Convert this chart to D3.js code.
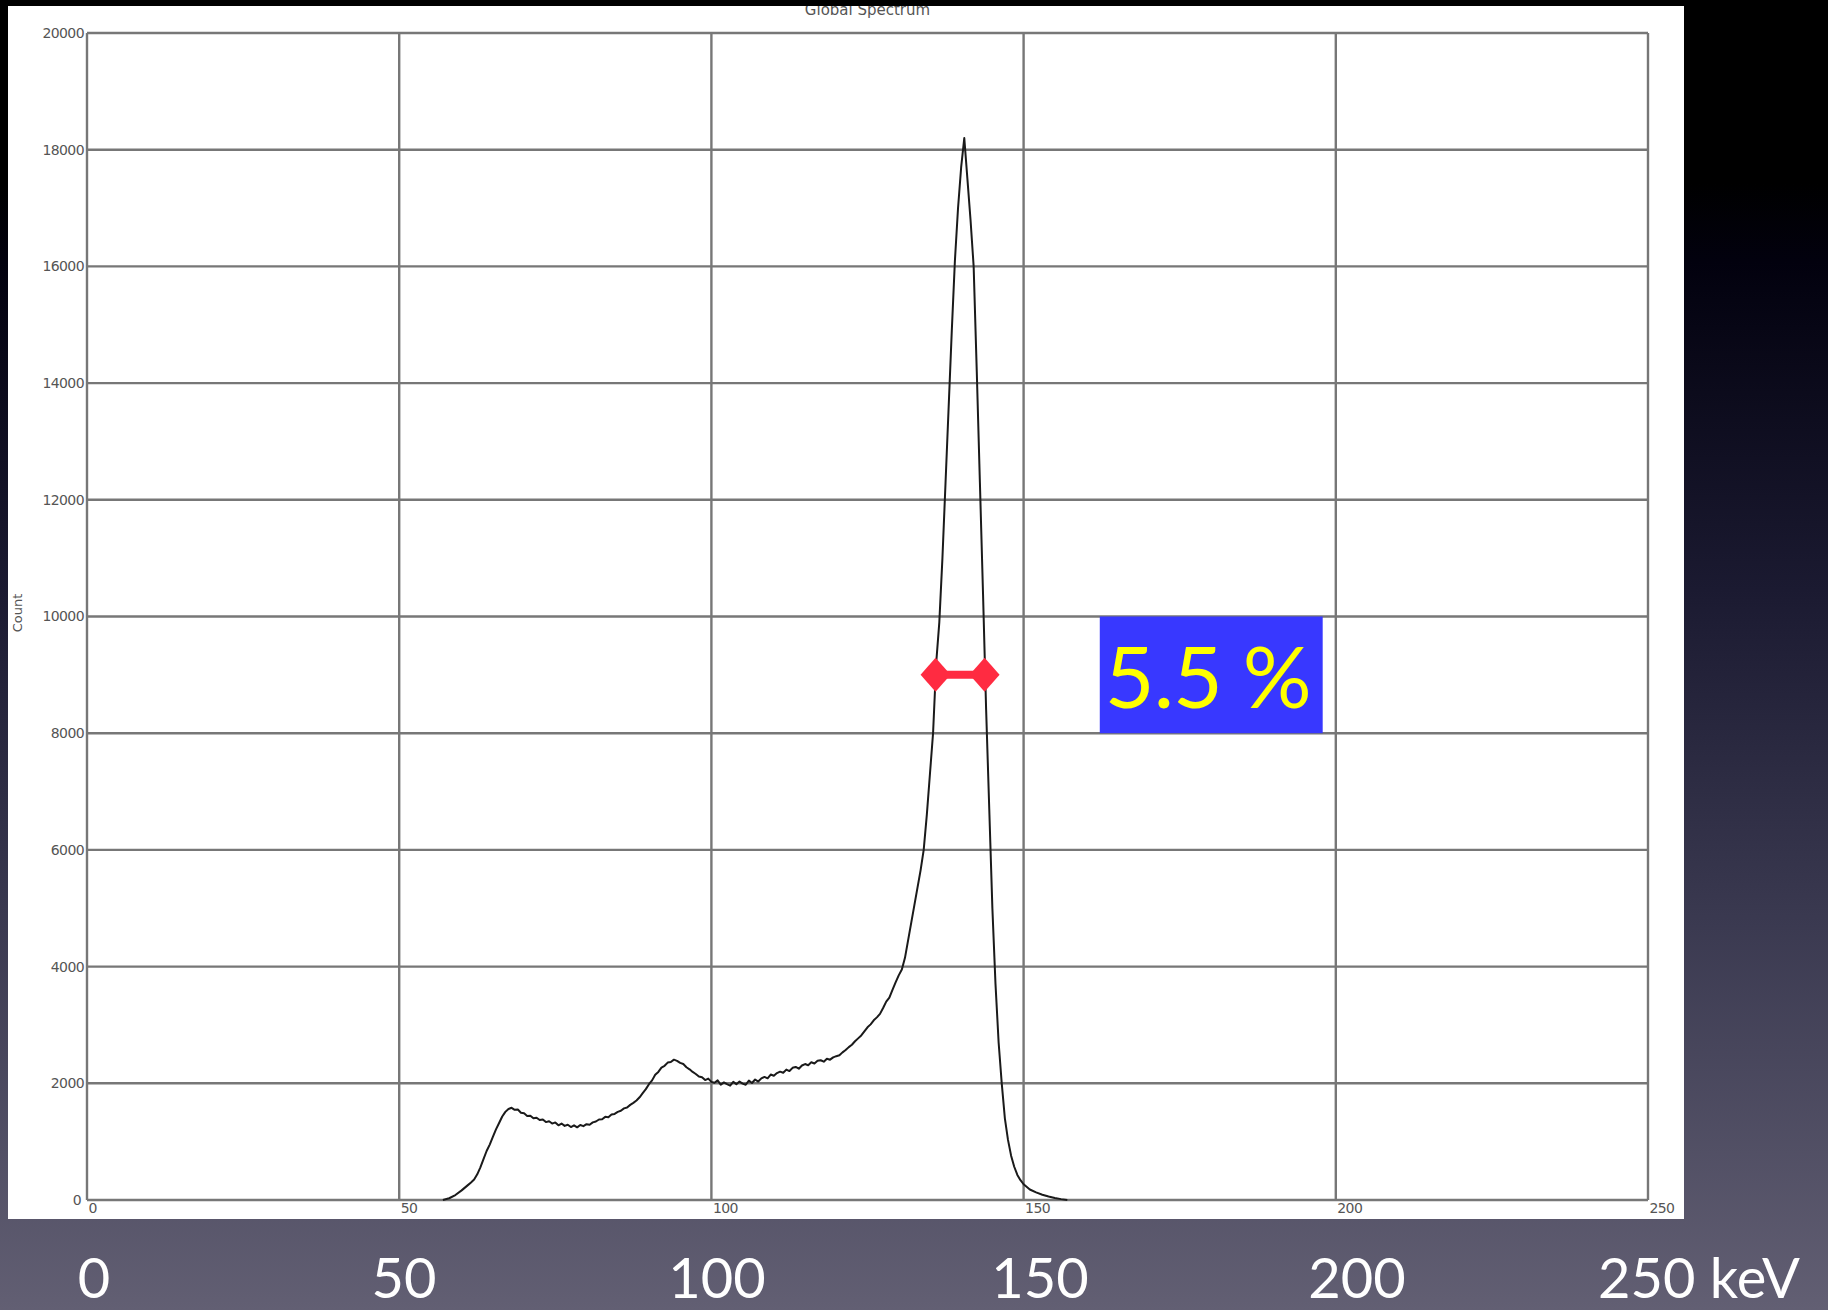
<!DOCTYPE html>
<html>
<head>
<meta charset="utf-8">
<script src="https://cdn.jsdelivr.net/npm/d3@7"></script>
<style>
  html, body { margin: 0; padding: 0; background: #000; }
  svg { display: block; }
</style>
</head>
<body>
<svg id="chart" width="1828" height="1310"></svg>
<script>
// ---------- DATA ----------
const chartTitle = "Global Spectrum";
const yAxisTitle = "Count";
const xTicks = [0, 50, 100, 150, 200, 250];
const yTicks = [0, 2000, 4000, 6000, 8000, 10000, 12000, 14000, 16000, 18000, 20000];
const slideLabels = ["0", "50", "100", "150", "200", "250 keV"];
const slideLabelValues = [0, 50, 100, 150, 200, 250];

const energy = [
  57, 58, 59, 60, 61, 61.5, 62, 62.5, 63, 63.5, 64, 64.5, 65, 65.5, 66, 66.5, 67, 67.5, 68,
  68.5, 69, 69.5, 70, 70.5, 71, 71.5, 72, 72.5, 73, 73.5, 74, 74.5, 75, 75.5, 76, 76.5, 77, 77.5, 78,
  78.5, 79, 79.5, 80, 80.5, 81, 81.5, 82, 82.5, 83, 83.5, 84, 84.5, 85, 85.5, 86, 86.5, 87, 87.5, 88,
  88.5, 89, 89.5, 90, 90.5, 91, 91.5, 92, 92.5, 93, 93.5, 94, 94.5, 95, 95.5, 96, 96.5, 97, 97.5, 98,
  98.5, 99, 99.5, 100, 100.5, 101, 101.5, 102, 102.5, 103, 103.5, 104, 104.5, 105, 105.5, 106, 106.5, 107, 107.5, 108,
  108.5, 109, 109.5, 110, 110.5, 111, 111.5, 112, 112.5, 113, 113.5, 114, 114.5, 115, 115.5, 116, 116.5, 117, 117.5, 118,
  118.5, 119, 119.5, 120, 120.5, 121, 121.5, 122, 122.5, 123, 123.5, 124, 124.5, 125, 125.5, 126, 126.5, 127, 127.5, 128,
  128.5, 129, 129.5, 130, 130.5, 131, 131.5, 132, 132.5, 133, 133.5, 134, 134.5, 135, 135.5, 136, 136.5, 137, 137.5, 138,
  138.5, 139, 139.5, 140, 140.5, 141, 141.5, 142, 142.5, 143, 143.5, 144, 144.5, 145, 145.5, 146, 146.5, 147, 147.5, 148,
  148.5, 149, 149.5, 150, 151, 152, 153, 154, 155, 156, 157
];
const counts = [
  0, 30, 85, 165, 255, 300, 350, 440, 560, 700, 840, 950, 1080, 1210, 1320, 1430, 1510, 1560, 1580,
  1545, 1550, 1495, 1485, 1440, 1445, 1400, 1410, 1370, 1380, 1335, 1350, 1310, 1330, 1280, 1310, 1270, 1290, 1250, 1280,
  1245, 1285, 1265, 1300, 1290, 1330, 1345, 1380, 1385, 1425, 1420, 1465, 1475, 1510, 1530, 1570, 1585, 1630, 1665, 1705,
  1760, 1830, 1900, 1985, 2050, 2145, 2195, 2270, 2300, 2355, 2365, 2405, 2385, 2350, 2330, 2275, 2240, 2195, 2160, 2115,
  2105, 2055, 2080, 2025, 2010, 2050, 1975, 2015, 1985, 1960, 2025, 1985, 2030, 1995, 1975, 2045, 2005, 2065, 2030, 2085,
  2110, 2085, 2150, 2130, 2175, 2200, 2180, 2235, 2210, 2265, 2280, 2250, 2305, 2330, 2310, 2360, 2340, 2385, 2395, 2370,
  2420, 2405, 2445, 2465, 2480, 2530, 2570, 2620, 2660, 2720, 2770, 2820, 2890, 2960, 3010, 3080, 3130, 3190, 3290, 3400,
  3470, 3600, 3730, 3850, 3950, 4150, 4450, 4750, 5050, 5350, 5650, 6000, 6600, 7300, 8000, 9200, 9900, 11000, 12300, 13600,
  14900, 16100, 17000, 17700, 18200, 17500, 16800, 16000, 14200, 12300, 10400, 8400, 6700, 5000, 3700, 2700, 2000, 1400, 1030, 760,
  570, 430, 340, 270, 180, 130, 90, 60, 35, 15, 0
];

// FWHM marker and annotation
const fwhmLeft = 135.9, fwhmRight = 143.75, fwhmLevel = 9000;
const annotationText = "5.5 %";
const boxX = [162.2, 197.9];
const boxY = [8000, 10000];

// ---------- LAYOUT ----------
const W = 1828, H = 1310;
const svg = d3.select("#chart");
const defs = svg.append("defs");

const grad = defs.append("linearGradient").attr("id", "bg").attr("x1", 0).attr("y1", 0).attr("x2", 0).attr("y2", 1);
grad.append("stop").attr("offset", "0%").attr("stop-color", "#000000");
grad.append("stop").attr("offset", "14%").attr("stop-color", "#000000");
grad.append("stop").attr("offset", "20%").attr("stop-color", "#02010e");
grad.append("stop").attr("offset", "45%").attr("stop-color", "#1b1a31");
grad.append("stop").attr("offset", "70%").attr("stop-color", "#3a3950");
grad.append("stop").attr("offset", "100%").attr("stop-color", "#625f73");
svg.append("rect").attr("width", W).attr("height", H).attr("fill", "url(#bg)");

// white panel
const panel = { x: 8, y: 6, w: 1676, h: 1213 };
defs.append("clipPath").attr("id", "panelClip").append("rect")
  .attr("x", panel.x).attr("y", panel.y).attr("width", panel.w).attr("height", panel.h);
svg.append("rect").attr("x", panel.x).attr("y", panel.y).attr("width", panel.w).attr("height", panel.h).attr("fill", "#ffffff");

const x = d3.scaleLinear().domain([0, 250]).range([87, 1648]);
const y = d3.scaleLinear().domain([0, 20000]).range([1200, 33]);

const g = svg.append("g").attr("clip-path", "url(#panelClip)");

// grid
const gridColor = "#777777";
g.append("g").selectAll("line").data(yTicks).join("line")
  .attr("x1", x(0)).attr("x2", x(250))
  .attr("y1", d => y(d)).attr("y2", d => y(d))
  .attr("stroke", gridColor).attr("stroke-width", 2.4);
g.append("g").selectAll("line").data(xTicks).join("line")
  .attr("x1", d => x(d)).attr("x2", d => x(d))
  .attr("y1", y(0)).attr("y2", y(20000))
  .attr("stroke", gridColor).attr("stroke-width", 2.4);

// axes labels
const tickFont = "'DejaVu Sans', sans-serif";
const yAxis = g.append("g").attr("transform", `translate(${x(0)},0)`)
  .call(d3.axisLeft(y).tickValues(yTicks).tickSize(0).tickPadding(3).tickFormat(d3.format("d")));
yAxis.select(".domain").remove();
yAxis.selectAll("text").attr("font-family", tickFont).attr("font-size", 14).attr("fill", "#555")
  .attr("letter-spacing", "-0.6");
yAxis.selectAll(".tick").filter(d => d === 0).select("text").attr("dx", -3);

const xAxis = g.append("g").attr("transform", `translate(0,${y(0)})`)
  .call(d3.axisBottom(x).tickValues(xTicks).tickSize(0).tickPadding(3).tickFormat(d3.format("d")));
xAxis.select(".domain").remove();
xAxis.selectAll("text").attr("font-family", tickFont).attr("font-size", 14).attr("fill", "#555")
  .attr("text-anchor", "start").attr("dx", 1).attr("letter-spacing", "-0.6");

// title and y title
g.append("text").attr("x", (x(0) + x(250)) / 2).attr("y", 15)
  .attr("text-anchor", "middle").attr("font-family", "'DejaVu Sans', sans-serif")
  .attr("font-size", 15).attr("fill", "#555").text(chartTitle);
g.append("text").attr("transform", "translate(22,613) rotate(-90)")
  .attr("text-anchor", "middle").attr("font-family", "'DejaVu Sans', sans-serif")
  .attr("font-size", 13).attr("fill", "#555").text(yAxisTitle);

// spectrum line
const spec = energy.map((e, i) => [e, counts[i]]);
g.append("path").datum(spec)
  .attr("d", d3.line().x(d => x(d[0])).y(d => y(d[1])))
  .attr("fill", "none").attr("stroke", "#1a1a1a").attr("stroke-width", 2)
  .attr("stroke-linejoin", "round");

// FWHM marker
const red = "#ff2b41";
svg.append("line").attr("x1", x(fwhmLeft)).attr("x2", x(fwhmRight))
  .attr("y1", y(fwhmLevel)).attr("y2", y(fwhmLevel))
  .attr("stroke", red).attr("stroke-width", 8);
svg.append("g").selectAll("path").data([fwhmLeft, fwhmRight]).join("path")
  .attr("transform", d => `translate(${x(d)},${y(fwhmLevel)})`)
  .attr("d", "M0,-17L15,0L0,17L-15,0Z").attr("fill", red);

// annotation box
svg.append("rect").attr("x", x(boxX[0])).attr("y", y(boxY[1]))
  .attr("width", x(boxX[1]) - x(boxX[0])).attr("height", y(boxY[0]) - y(boxY[1]))
  .attr("fill", "#3838ff");
svg.append("text").attr("x", x(boxX[0]) + 5).attr("y", y(boxY[0]) - 25)
  .attr("font-family", "Lato, 'Open Sans', sans-serif").attr("font-size", 86)
  .attr("fill", "#ffff00").attr("letter-spacing", "-1").text(annotationText);

// slide labels under the chart
const slideScale = d3.scaleLinear().domain([0, 50, 100, 150, 200, 250]).range([94, 404, 717, 1040, 1357, 1646]);
svg.append("g").selectAll("text").data(slideLabelValues).join("text")
  .attr("x", (d, i) => i === slideLabels.length - 1 ? slideScale(d) - 48 : slideScale(d))
  .attr("y", 1298)
  .attr("text-anchor", (d, i) => i === slideLabels.length - 1 ? "start" : "middle")
  .attr("font-family", "Lato, 'Open Sans', sans-serif").attr("font-size", 56)
  .attr("fill", "#ffffff")
  .text((d, i) => slideLabels[i]);
</script>
</body>
</html>
